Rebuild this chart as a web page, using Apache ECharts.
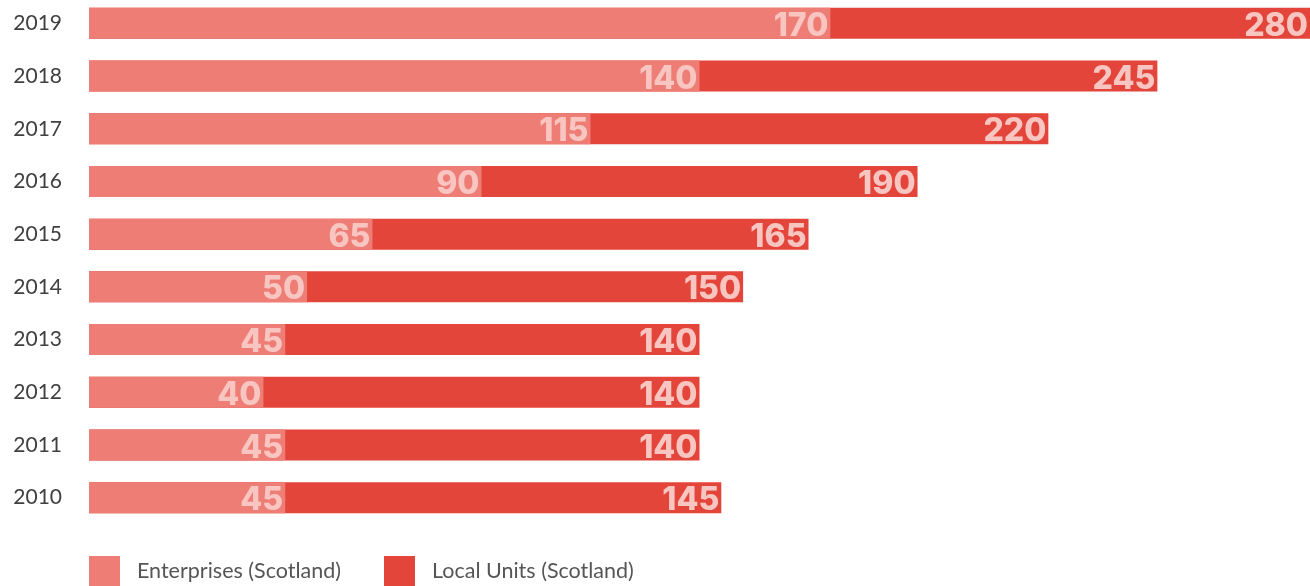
<!DOCTYPE html>
<html>
<head>
<meta charset="utf-8">
<script src="https://cdn.jsdelivr.net/npm/echarts@6/dist/echarts.min.js"></script>
<style>
  html, body { margin: 0; padding: 0; background: #fff; }
  #chart { width: 1310px; height: 586px; }
</style>
</head>
<body>
<div id="chart"></div>
<script>
const years = ['2010', '2011', '2012', '2013', '2014', '2015', '2016', '2017', '2018', '2019']
const enterprises = [45, 45, 40, 45, 50, 65, 90, 115, 140, 170]
const localUnits = [145, 140, 140, 140, 150, 165, 190, 220, 245, 280]

const labelStyle = {
  show: true,
  position: 'insideRight',
  distance: 2,
  offset: [0, 3],
  color: '#f8c5c1',
  fontFamily: 'Inter',
  fontWeight: 800,
  fontSize: 32
}

const legendText = { color: '#555', fontFamily: 'Lato', fontSize: 21.5, padding: [0, 0, 0, 12] }

let myChart = echarts.init(document.getElementById('chart'))
myChart.setOption({
  animation: false,
  grid: { left: 89, right: 0, top: -3, height: 527, containLabel: false, outerBoundsMode: 'none' },
  legend: [
    {
      left: 89, top: 556, padding: 0, itemWidth: 31, itemHeight: 31, itemGap: 0,
      icon: 'rect', data: ['Enterprises (Scotland)'], textStyle: legendText
    },
    {
      left: 384, top: 556, padding: 0, itemWidth: 31, itemHeight: 31, itemGap: 0,
      icon: 'rect', data: ['Local Units (Scotland)'], textStyle: legendText
    }
  ],
  xAxis: {
    type: 'value', min: 0, max: 280, show: false
  },
  yAxis: {
    type: 'category',
    data: years,
    axisLine: { show: false },
    axisTick: { show: false },
    axisLabel: { margin: 27, color: '#404040', fontFamily: 'Lato', fontSize: 21 }
  },
  series: [
    {
      name: 'Local Units (Scotland)',
      type: 'bar',
      barWidth: 31,
      barGap: '-100%',
      data: localUnits,
      itemStyle: { color: '#e3453a' },
      label: labelStyle
    },
    {
      name: 'Enterprises (Scotland)',
      type: 'bar',
      barWidth: 31,
      barGap: '-100%',
      data: enterprises,
      itemStyle: { color: '#ed7d75' },
      label: labelStyle
    }
  ]
})
</script>
</body>
</html>
